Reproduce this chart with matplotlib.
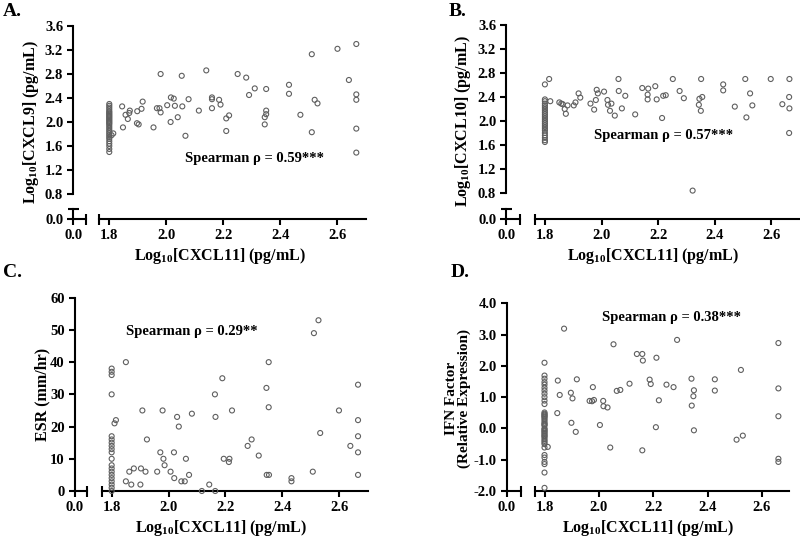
import numpy as np
import matplotlib
matplotlib.use("Agg")
from matplotlib import pyplot as plt

# ---- data ----
# panel A: Log10[CXCL9] vs Log10[CXCL11]
a_col_y = [2.30, 2.27, 2.24, 2.21, 2.18, 2.16, 2.14, 2.12, 2.10, 2.08, 2.06, 2.04,
           2.02, 2.00, 1.98, 1.96, 1.93, 1.90, 1.87, 1.84, 1.81, 1.78, 1.75, 1.72,
           1.68, 1.64, 1.60, 1.55, 1.50]
a_x = [1.808, 1.814, 1.845, 1.848, 1.857, 1.865, 1.872, 1.870, 1.898, 1.897, 1.903,
       1.913, 1.917, 1.955, 1.967, 1.976, 1.980, 1.980, 2.003, 2.016, 2.026, 2.030,
       2.015, 2.040, 2.054, 2.056, 2.078, 2.067, 2.114, 2.140, 2.160, 2.160, 2.160,
       2.185, 2.190, 2.210, 2.210, 2.220, 2.250, 2.280, 2.290, 2.310, 2.350, 2.350,
       2.350, 2.345, 2.345, 2.430, 2.430, 2.470, 2.510, 2.510, 2.520, 2.530, 2.600,
       2.640, 2.666, 2.666, 2.666, 2.666, 2.666]
a_y = [1.78, 1.81, 2.26, 1.91, 2.12, 2.05, 2.19, 2.15, 2.18, 1.98, 1.96,
       2.22, 2.34, 1.91, 2.23, 2.23, 2.80, 2.16, 2.28, 2.41, 2.39, 2.27,
       2.00, 2.08, 2.77, 2.26, 2.38, 1.77, 2.19, 2.86, 2.41, 2.38, 2.23,
       2.37, 2.29, 1.85, 2.06, 2.11, 2.80, 2.74, 2.45, 2.56, 2.55, 2.19,
       2.13, 2.08, 1.96, 2.62, 2.47, 2.12, 3.13, 1.83, 2.37, 2.31, 3.22,
       2.70, 3.30, 2.46, 2.37, 1.89, 1.49]

# panel B: Log10[CXCL10] vs Log10[CXCL11]
b_col_y = [2.61, 2.36, 2.33, 2.29, 2.26, 2.23, 2.20, 2.17, 2.14, 2.11, 2.08, 2.05,
           2.02, 1.99, 1.96, 1.93, 1.90, 1.87, 1.84, 1.80, 1.76, 1.72, 1.68, 1.65]
b_x = [1.815, 1.819, 1.851, 1.858, 1.863, 1.870, 1.874, 1.880, 1.902, 1.908, 1.919,
       1.925, 1.961, 1.974, 1.980, 1.983, 1.987, 2.009, 2.021, 2.023, 2.035, 2.030,
       2.047, 2.060, 2.061, 2.072, 2.084, 2.119, 2.144, 2.163, 2.165, 2.163, 2.190,
       2.195, 2.214, 2.218, 2.227, 2.252, 2.276, 2.291, 2.344, 2.346, 2.352, 2.351,
       2.356, 2.430, 2.430, 2.471, 2.508, 2.512, 2.525, 2.533, 2.322, 2.598, 2.639,
       2.664, 2.663, 2.664, 2.663]
b_y = [2.70, 2.33, 2.31, 2.29, 2.28, 2.20, 2.12, 2.26, 2.26, 2.31, 2.46,
       2.39, 2.29, 2.19, 2.35, 2.52, 2.46, 2.49, 2.35, 2.27, 2.29, 2.17,
       2.09, 2.70, 2.50, 2.21, 2.42, 2.11, 2.55, 2.44, 2.54, 2.36, 2.58,
       2.36, 2.05, 2.42, 2.43, 2.70, 2.50, 2.38, 2.27, 2.37, 2.70, 2.17,
       2.40, 2.61, 2.51, 2.24, 2.70, 2.06, 2.46, 2.26, 0.84, 2.70, 2.28,
       2.70, 2.40, 2.21, 1.80]

# panel C: ESR vs Log10[CXCL11]
c_col_y = [38, 37, 36, 30, 17, 16, 15, 14, 13, 12, 10, 8, 7, 6, 5, 4, 3, 2, 1, 0]
c_x = [1.810, 1.815, 1.850, 1.850, 1.862, 1.869, 1.878, 1.901, 1.903, 1.908, 1.919,
       1.924, 1.960, 1.971, 1.982, 1.979, 1.986, 2.007, 2.019, 2.020, 2.030, 2.036,
       2.045, 2.057, 2.061, 2.072, 2.082, 2.117, 2.143, 2.163, 2.164, 2.165, 2.189,
       2.194, 2.212, 2.214, 2.223, 2.278, 2.292, 2.317, 2.344, 2.345, 2.353, 2.352,
       2.352, 2.432, 2.432, 2.507, 2.511, 2.527, 2.533, 2.599, 2.639, 2.666, 2.666,
       2.666, 2.666, 2.666]
c_y = [21, 22, 3, 40, 6, 2, 7, 2, 7, 25, 6,
       16, 6, 12, 10, 25, 8, 6, 12, 4, 23, 20,
       3, 3, 10, 5, 24, 0, 2, 30, 0, 23, 35,
       10, 9, 10, 25, 14, 16, 11, 32, 5, 5, 40,
       26, 4, 3, 6, 49, 53, 18, 25, 14, 33, 22,
       17, 12, 5]

# panel D: IFN factor vs Log10[CXCL11]
d_col_y = [2.10, 1.69, 1.59, 1.48, 1.40, 1.30, 1.21, 1.11, 1.00, 0.89, 0.78, 0.51,
           0.47, 0.44, 0.41, 0.38, 0.35, 0.30, 0.25, 0.19, 0.15, 0.12, 0.09, 0.00,
           -0.03, -0.07, -0.10, -0.14, -0.18, -0.22, -0.25, -0.29, -0.35, -0.40,
           -0.45, -0.50, -0.61, -0.85, -0.93, -1.07, -1.14, -1.41, -1.90]
d_x = [1.812, 1.847, 1.849, 1.856, 1.872, 1.897, 1.903, 1.899, 1.915, 1.919, 1.966,
       1.975, 1.982, 1.978, 2.004, 2.016, 2.017, 2.032, 2.042, 2.054, 2.066, 2.079,
       2.113, 2.140, 2.160, 2.162, 2.160, 2.187, 2.191, 2.212, 2.210, 2.221, 2.249,
       2.275, 2.288, 2.341, 2.342, 2.350, 2.348, 2.350, 2.427, 2.427, 2.507, 2.523,
       2.530, 2.661, 2.661, 2.661, 2.661, 2.661]
d_y = [-0.59, 0.49, 1.53, 1.07, 3.19, 1.14, 0.96, 0.18, -0.11, 1.57, 0.88,
       0.87, 0.91, 1.32, 0.11, 0.88, 0.71, 0.67, -0.61, 2.69, 1.20, 1.23,
       1.43, 2.38, 2.38, 2.17, -0.70, 1.56, 1.42, 2.26, 0.04, 0.90, 1.40,
       1.32, 2.83, 1.59, 0.73, 1.22, 1.03, -0.06, 1.57, 1.21, -0.36, 1.87,
       -0.23, 2.73, 1.28, 0.39, -0.97, -1.07]

COL_X = 1.8
XTICKS = [1.8, 2.0, 2.2, 2.4, 2.6]
XLIM = (1.765, 2.7)
X_LABEL = r'Log$_{\mathrm{10}}$[CXCL11] (pg/mL)'

W, H = 800, 539
FONT = 'Liberation Serif'

plt.rcParams['font.family'] = FONT
plt.rcParams['font.weight'] = 'bold'
plt.rcParams['mathtext.fontset'] = 'custom'
plt.rcParams['mathtext.rm'] = 'Liberation Serif:bold'
plt.rcParams['mathtext.it'] = 'Liberation Serif:bold'
plt.rcParams['mathtext.bf'] = 'Liberation Serif:bold'

TICK_FS = 10.5
LW = 1.5
PT = 0.72  # points per pixel at dpi 100


def fbox(x0, y0, x1, y1):
    """pixel box (top-left origin) -> figure fraction rect"""
    return [x0 / W, 1 - y1 / H, (x1 - x0) / W, (y1 - y0) / H]


def style_ticks(ax):
    ax.tick_params(which='major', direction='out', length=6 * PT, width=LW,
                   labelsize=TICK_FS, pad=3)
    ax.tick_params(which='minor', direction='inout', length=11 * PT, width=LW)


def panel(fig, p, xs, ys, ylim, yticks, ylabels, ybreak, lab, ylab, ylab_xy, rho, rho_xy,
          ylab_fs=11.5):
    yx, s1, s2, xe, xa, yt, yb = p
    # main region
    ax = fig.add_axes(fbox(s2, yt, xe, yb))
    ax.scatter(xs, ys, s=13, facecolors='none', edgecolors='#5f5f5f',
               linewidths=0.8, clip_on=False, zorder=3)
    ax.set_xlim(*XLIM)
    ax.set_ylim(*ylim)
    for sp in ['top', 'right']:
        ax.spines[sp].set_visible(False)
    ax.spines['left'].set_position(('outward', (s2 - yx) * PT))
    ax.spines['bottom'].set_position(('outward', (xa - yb) * PT))
    for sp in ['left', 'bottom']:
        ax.spines[sp].set_linewidth(LW)
    ax.set_xticks(XTICKS)
    ax.set_xticklabels([f'{v:.1f}' for v in XTICKS])
    ax.set_xticks([XLIM[0]], minor=True)
    ax.set_yticks(yticks)
    ax.set_yticklabels(ylabels)
    ax.set_yticks([], minor=True)
    style_ticks(ax)
    ax.patch.set_alpha(0)

    # short segment next to 0.0
    top = xa - 10.5 if ybreak else xa - 8
    ax0 = fig.add_axes(fbox(yx, top, s1, xa))
    ax0.set_xlim(0, 1)
    ax0.set_ylim(0, 1)
    for sp in ['top', 'right']:
        ax0.spines[sp].set_visible(False)
    ax0.spines['bottom'].set_linewidth(LW)
    ax0.spines['left'].set_linewidth(LW)
    ax0.set_xticks([0])
    ax0.set_xticklabels(['0.0'])
    ax0.set_xticks([1], minor=True)
    if ybreak:
        ax0.set_yticks([0])
        ax0.set_yticklabels(['0.0'])
        ax0.set_yticks([1], minor=True)
    else:
        ax0.spines['left'].set_visible(False)
        ax0.set_yticks([])
    style_ticks(ax0)
    ax0.patch.set_alpha(0)

    fig.text(lab[0] / W, 1 - lab[1] / H, lab[2], fontsize=14, fontweight='bold',
             va='top', ha='left')
    fig.text((yx + xe) / 2 / W, 1 - (xa + 37) / H, X_LABEL, fontsize=11.5,
             fontweight='bold', ha='center', va='center')
    fig.text(ylab_xy[0] / W, 1 - ylab_xy[1] / H, ylab, fontsize=ylab_fs, fontweight='bold',
             rotation=90, ha='center', va='center', linespacing=1.0,
             multialignment='center')
    fig.text(rho_xy[0] / W, 1 - rho_xy[1] / H, rho, fontsize=10.5, fontweight='bold',
             ha='left', va='center')


fig = plt.figure(figsize=(8.0, 5.39), dpi=100)

# (y-axis x, seg1 end, seg2 start, x end, x-axis y, y top px, main y bottom px)
pa = (73.3, 85.5, 99.3, 366.0, 219.3, 26.0, 194.0)
pb = (506.3, 520.3, 535.0, 799.6, 219.3, 25.0, 193.0)
pc = (75.0, 87.0, 101.7, 367.7, 491.0, 297.7, 491.0)
pd = (506.7, 520.7, 535.0, 789.0, 491.0, 303.3, 491.0)

yt_ab = [0.8, 1.2, 1.6, 2.0, 2.4, 2.8, 3.2, 3.6]

panel(fig, pa, [COL_X] * len(a_col_y) + a_x, a_col_y + a_y, (0.8, 3.6),
      yt_ab, [f'{v:.1f}' for v in yt_ab], True, (3, 3, 'A.'),
      r'Log$_{\mathrm{10}}$[CXCL9] (pg/mL)', (31, 122),
      'Spearman ρ = 0.59***', (185, 159))
panel(fig, pb, [COL_X] * len(b_col_y) + b_x, b_col_y + b_y, (0.8, 3.6),
      yt_ab, [f'{v:.1f}' for v in yt_ab], True, (449, 3, 'B.'),
      r'Log$_{\mathrm{10}}$[CXCL10] (pg/mL)', (463, 121),
      'Spearman ρ = 0.57***', (594, 135))

yt_c = [0, 10, 20, 30, 40, 50, 60]
panel(fig, pc, [COL_X] * len(c_col_y) + c_x, c_col_y + c_y, (0, 60),
      yt_c, [str(v) for v in yt_c], False, (3, 264, 'C.'),
      'ESR (mm/hr)', (42, 394),
      'Spearman ρ = 0.29**', (126, 332))

yt_d = [-2.0, -1.0, 0.0, 1.0, 2.0, 3.0, 4.0]
panel(fig, pd, [COL_X] * len(d_col_y) + d_x, d_col_y + d_y, (-2.0, 4.0),
      yt_d, [f'{v:.1f}' for v in yt_d], False, (451, 264, 'D.'),
      'IFN Factor\n(Relative Expression)', (458, 398),
      'Spearman ρ = 0.38***', (602, 318), ylab_fs=11)

fig.savefig('out.png', dpi=100)
